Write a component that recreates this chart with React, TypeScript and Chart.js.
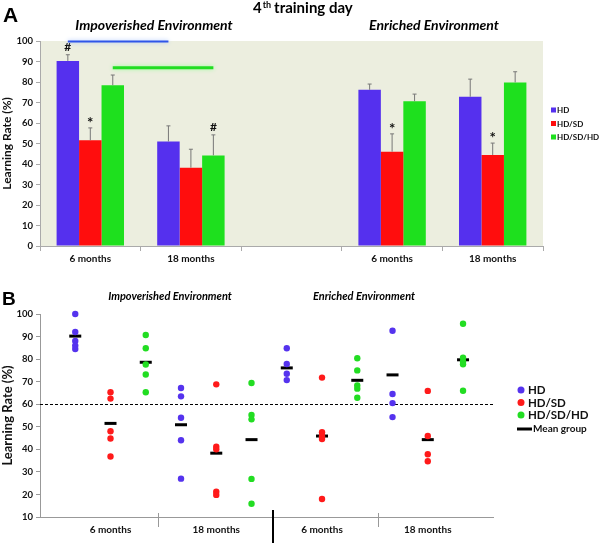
import React, { useEffect, useRef } from "react";
import { Chart, registerables } from "chart.js";
Chart.register(...registerables);

const FONT = "Lato, 'Open Sans', sans-serif";

// ---------- Panel A data ----------
const groupLabels = ["6 months", "18 months", "", "6 months", "18 months"];
const seriesNames = ["HD", "HD/SD", "HD/SD/HD"];
const barColors = ["#5530EE", "#FF0D0D", "#1EE01E"];
const hdMeans = [90.3, 51, null, 76.2, 72.8];
const hdsdMeans = [51.6, 38.2, null, 46, 44.4];
const hdsdhdMeans = [78.4, 44.2, null, 70.6, 79.8];
const hdErr = [3, 7.6, null, 2.8, 8.6];
const hdsdErr = [6, 9, null, 8.7, 5.8];
const hdsdhdErr = [5, 10, null, 3.5, 5.2];
const sigMarks = [
  { series: 0, index: 0, sym: "#" },
  { series: 1, index: 0, sym: "*" },
  { series: 2, index: 1, sym: "#" },
  { series: 1, index: 3, sym: "*" },
  { series: 1, index: 4, sym: "*" },
];
const sigLines = [
  { series: 0, from: 0, to: 1, value: 99.7, color: "#2F55E8", glow: "#A9C4FF", width: 2 },
  { series: 2, from: 0, to: 1, value: 87, color: "#22DD22", glow: "#9CFF9C", width: 3 },
];

// ---------- Panel B data ----------
const pointColors = ["#5533EE", "#FF1A1A", "#22DD22"];
const monthLabelsB = ["6 months", "18 months", "6 months", "18 months"];
const hdPoints = [
  [100, 92, 88, 86, 84.5],
  [67.2, 63.5, 54, 44, 27],
  [84.8, 77.8, 73.5, 70.7],
  [92.6, 64.5, 60.5, 54.3],
];
const hdsdPoints = [
  [65.3, 62.5, 48, 44.8, 36.8],
  [68.8, 41.2, 40, 21.2, 19.8],
  [71.8, 47.6, 45.8, 44.6, 18],
  [65.9, 45.9, 37.8, 34.7],
];
const hdsdhdPoints = [
  [90.7, 84.8, 77.6, 73.2, 65.3],
  [69.4, 55.2, 53.3, 26.9, 15.9],
  [80.4, 75, 68.3, 66.9, 62.9],
  [95.7, 80.6, 78.9, 77.7, 66],
];
const hdGroupMeans = [90.2, 50.9, 76.1, 73];
const hdsdGroupMeans = [51.5, 38.3, 45.9, 44.3];
const hdsdhdGroupMeans = [78.6, 44.3, 70.6, 79.7];
const thinSeparators = [2.35, 8.6];
const thickSeparators = [5.6];
const threshold = 60;

const barData = [hdMeans, hdsdMeans, hdsdhdMeans];
const barErrs = [hdErr, hdsdErr, hdsdhdErr];
const groupPoints = [hdPoints, hdsdPoints, hdsdhdPoints];
const groupMeans = [hdGroupMeans, hdsdGroupMeans, hdsdhdGroupMeans];

function font(size: number, weight = "bold", style = "normal") {
  return `${style} ${weight} ${size}px ${FONT}`;
}

const panelAPlugin = {
  id: "panelA",
  beforeDraw(chart: any) {
    const { ctx, chartArea: a } = chart;
    ctx.save();
    ctx.fillStyle = "#ECEEDF";
    ctx.fillRect(a.left, a.top, a.right - a.left, a.bottom - a.top);
    ctx.restore();
  },
  afterDatasetsDraw(chart: any) {
    const { ctx } = chart;
    const y = chart.scales.y;
    ctx.save();
    // error bars
    ctx.strokeStyle = "#777";
    ctx.lineWidth = 1;
    barErrs.forEach((errs, si) => {
      const meta = chart.getDatasetMeta(si);
      errs.forEach((e, i) => {
        const v = barData[si][i];
        if (e == null || v == null) return;
        const bar = meta.data[i];
        const top = y.getPixelForValue(v + e);
        ctx.beginPath();
        ctx.moveTo(bar.x, bar.y);
        ctx.lineTo(bar.x, top);
        ctx.moveTo(bar.x - 2, top);
        ctx.lineTo(bar.x + 2, top);
        ctx.stroke();
      });
    });
    // significance marks
    ctx.fillStyle = "#111";
    ctx.textAlign = "center";
    ctx.textBaseline = "middle";
    sigMarks.forEach((m) => {
      const v = (barData[m.series][m.index] as number) + ((barErrs[m.series][m.index] as number) || 0);
      const bar = chart.getDatasetMeta(m.series).data[m.index];
      const top = y.getPixelForValue(v);
      ctx.font = m.sym === "*" ? font(15) : font(12);
      ctx.fillText(m.sym, bar.x, top - (m.sym === "*" ? 5 : 8));
    });
    // significance lines
    sigLines.forEach((l) => {
      const meta = chart.getDatasetMeta(l.series);
      const x1 = meta.data[l.from].x;
      const x2 = meta.data[l.to].x;
      const py = y.getPixelForValue(l.value);
      ctx.save();
      ctx.shadowColor = l.glow;
      ctx.shadowBlur = 4;
      ctx.strokeStyle = l.color;
      ctx.lineWidth = l.width;
      ctx.beginPath();
      ctx.moveTo(x1, py);
      ctx.lineTo(x2, py);
      ctx.stroke();
      ctx.restore();
    });
    ctx.restore();
  },
  afterDraw(chart: any) {
    const { ctx } = chart;
    ctx.save();
    ctx.fillStyle = "#000";
    ctx.textBaseline = "alphabetic";
    ctx.textAlign = "left";
    ctx.font = "bold 21px 'Liberation Sans', Arial, sans-serif";
    ctx.fillText("A", 3, 22);
    // title with superscript
    let x = 253;
    ctx.font = font(15);
    ctx.fillText("4", x, 13);
    x += ctx.measureText("4").width + 1;
    ctx.font = font(9);
    ctx.fillText("th", x, 8);
    x += ctx.measureText("th").width + 3;
    ctx.font = font(15);
    ctx.fillText("training day", x, 13);
    // environment labels
    ctx.textAlign = "center";
    ctx.font = font(14, "bold", "italic");
    ctx.fillText("Impoverished Environment", 154, 30);
    ctx.fillText("Enriched Environment", 434, 30);
    // legend
    ctx.textAlign = "left";
    ctx.textBaseline = "middle";
    ctx.font = font(8);
    chart.data.datasets.forEach((ds: any, i: number) => {
      const cy = 110 + i * 13.5;
      ctx.fillStyle = ds.backgroundColor;
      ctx.fillRect(551, cy - 2.5, 5, 5);
      ctx.fillStyle = "#111";
      ctx.fillText(ds.label, 557, cy + 0.5);
    });
    ctx.restore();
  },
};

const panelBPlugin = {
  id: "panelB",
  beforeDatasetsDraw(chart: any) {
    const { ctx, chartArea: a } = chart;
    const py = chart.scales.y.getPixelForValue(threshold);
    ctx.save();
    ctx.strokeStyle = "#000";
    ctx.lineWidth = 1;
    ctx.setLineDash([3, 2]);
    ctx.beginPath();
    ctx.moveTo(a.left, Math.round(py) + 0.5);
    ctx.lineTo(a.right, Math.round(py) + 0.5);
    ctx.stroke();
    ctx.restore();
  },
  afterDraw(chart: any) {
    const { ctx, chartArea: a } = chart;
    const xs = chart.scales.x;
    ctx.save();
    // separators
    ctx.strokeStyle = "#999";
    ctx.lineWidth = 1;
    thinSeparators.forEach((v) => {
      const px = Math.round(xs.getPixelForValue(v)) + 0.5;
      ctx.beginPath();
      ctx.moveTo(px, a.bottom - 4);
      ctx.lineTo(px, a.bottom + 10);
      ctx.stroke();
    });
    ctx.strokeStyle = "#000";
    ctx.lineWidth = 2;
    thickSeparators.forEach((v) => {
      const px = Math.round(xs.getPixelForValue(v));
      ctx.beginPath();
      ctx.moveTo(px, a.bottom - 7);
      ctx.lineTo(px, chart.height - 2);
      ctx.stroke();
    });
    ctx.fillStyle = "#000";
    ctx.textAlign = "left";
    ctx.textBaseline = "alphabetic";
    ctx.font = "bold 19px 'Liberation Sans', Arial, sans-serif";
    ctx.fillText("B", 2, 33);
    ctx.textAlign = "center";
    ctx.font = font(11, "bold", "italic");
    ctx.fillText("Impoverished Environment", 170, 28);
    ctx.fillText("Enriched Environment", 364, 28);
    // legend
    ctx.textAlign = "left";
    ctx.textBaseline = "middle";
    chart.data.datasets.forEach((ds: any, i: number) => {
      const cy = 118 + i * 12.5;
      if (i < 3) {
        ctx.fillStyle = ds.backgroundColor;
        ctx.beginPath();
        ctx.arc(521, cy, 3.5, 0, Math.PI * 2);
        ctx.fill();
        ctx.fillStyle = "#111";
        ctx.font = font(11.5);
        ctx.fillText(ds.label, 528, cy + 0.5);
      } else {
        const my = cy + 1.5;
        ctx.strokeStyle = "#000";
        ctx.lineWidth = 3;
        ctx.beginPath();
        ctx.moveTo(517, my);
        ctx.lineTo(532, my);
        ctx.stroke();
        ctx.fillStyle = "#111";
        ctx.font = font(10);
        ctx.fillText(ds.label, 533, my);
      }
    });
    ctx.restore();
  },
};

export default function App() {
  const refA = useRef<HTMLCanvasElement>(null);
  const refB = useRef<HTMLCanvasElement>(null);

  useEffect(() => {
    const tickFont = { family: FONT, size: 9.5, weight: "bold" as const };
    const chartA = new Chart(refA.current as HTMLCanvasElement, {
      type: "bar",
      data: {
        labels: groupLabels,
        datasets: seriesNames.map((name, i) => ({
          label: name,
          data: barData[i] as any,
          backgroundColor: barColors[i],
          borderWidth: 0,
          categoryPercentage: 0.67,
          barPercentage: 1,
        })),
      },
      options: {
        animation: false,
        responsive: false,
        layout: { padding: { top: 41, right: 57, left: 0, bottom: 0 } },
        plugins: { legend: { display: false }, tooltip: { enabled: false } },
        scales: {
          x: {
            grid: { offset: true, drawOnChartArea: false, drawTicks: true, tickLength: 5, color: "#aaa" },
            border: { color: "#aaa" },
            ticks: { font: { family: FONT, size: 10, weight: "bold" }, color: "#111", padding: 2 },
            afterFit: (s: any) => {
              s.height = 26;
            },
          },
          y: {
            min: 0,
            max: 100,
            ticks: { stepSize: 10, font: tickFont, color: "#111", padding: 3 },
            grid: { drawOnChartArea: false, tickLength: 4, color: "#aaa" },
            border: { color: "#aaa" },
            title: {
              display: true,
              text: "Learning Rate (%)",
              font: { family: FONT, size: 12, weight: "bold" },
              color: "#111",
              padding: 0,
            },
            afterFit: (s: any) => {
              s.width = 40;
            },
          },
        },
      },
      plugins: [panelAPlugin],
    });

    const scatterSets = seriesNames.map((name, si) => ({
      label: name,
      data: groupPoints[si].flatMap((vals, g) => vals.map((v) => ({ x: g * 3 + si, y: v }))),
      backgroundColor: pointColors[si],
      borderColor: pointColors[si],
      borderWidth: 0,
      pointRadius: 3.2,
      clip: false,
    }));
    const meanSet = {
      label: "Mean group",
      data: groupMeans.flatMap((vals, si) => vals.map((v, g) => ({ x: g * 3 + si, y: v }))),
      pointStyle: "line",
      pointRadius: 6,
      borderColor: "#000",
      backgroundColor: "#000",
      borderWidth: 3,
      clip: false,
    };

    const chartB = new Chart(refB.current as HTMLCanvasElement, {
      type: "scatter",
      data: { datasets: [...scatterSets, meanSet] as any },
      options: {
        animation: false,
        responsive: false,
        layout: { padding: { top: 42, right: 107, left: 0, bottom: 0 } },
        plugins: { legend: { display: false }, tooltip: { enabled: false } },
        scales: {
          x: {
            type: "linear",
            min: -1,
            max: 11.85,
            afterBuildTicks: (s: any) => {
              s.ticks = monthLabelsB.map((_, g) => ({ value: g * 3 + 1 }));
            },
            ticks: {
              callback: (v: any) => monthLabelsB[Math.round((Number(v) - 1) / 3)] ?? "",
              font: { family: FONT, size: 10, weight: "bold" },
              color: "#111",
              padding: 7,
              autoSkip: false,
              maxRotation: 0,
            },
            grid: { display: true, drawOnChartArea: false, drawTicks: false },
            border: { color: "#999" },
            afterFit: (s: any) => {
              s.height = 28;
            },
          },
          y: {
            min: 10,
            max: 100,
            ticks: { stepSize: 10, font: tickFont, color: "#111", padding: 3 },
            grid: { drawOnChartArea: false, tickLength: 4, color: "#999" },
            border: { color: "#999" },
            title: {
              display: true,
              text: "Learning Rate (%)",
              font: { family: FONT, size: 13, weight: "bold" },
              color: "#111",
              padding: 0,
            },
            afterFit: (s: any) => {
              s.width = 40;
            },
          },
        },
      },
      plugins: [panelBPlugin],
    });

    return () => {
      chartA.destroy();
      chartB.destroy();
    };
  }, []);

  return (
    <div style={{ position: "absolute", left: 0, top: 0, width: 600, height: 545, background: "#fff" }}>
      <canvas ref={refA} width={600} height={272} style={{ position: "absolute", left: 0, top: 0, display: "block" }} />
      <canvas ref={refB} width={600} height={273} style={{ position: "absolute", left: 0, top: 272, display: "block" }} />
    </div>
  );
}
